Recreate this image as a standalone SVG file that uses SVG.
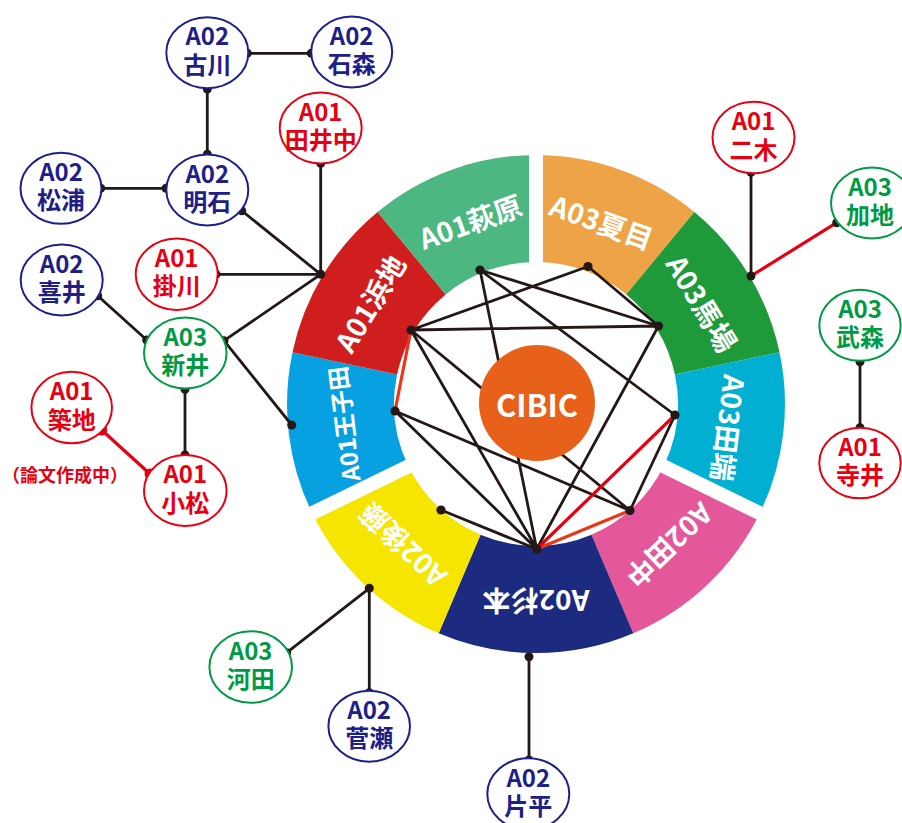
<svg xmlns="http://www.w3.org/2000/svg" width="902" height="823" viewBox="0 0 902 823">
<defs>
<style>
text{font-family:"Noto Sans CJK JP","Noto Sans",sans-serif;font-weight:700;text-anchor:middle}
.n ellipse{fill:#fff;stroke-width:2}
.n text{font-size:24px}
.a01 ellipse{stroke:#e60012}.a01 text{fill:#e60012}
.a02 ellipse{stroke:#1d2088}.a02 text{fill:#1d2088}
.a03 ellipse{stroke:#009a44}.a03 text{fill:#009a44}
.seg text{fill:#fff;font-size:28px;dominant-baseline:central}
.ln{stroke:#231815;stroke-width:2.8;fill:none}
.rd{stroke:#e60012;stroke-width:3.2;fill:none}
.or{stroke:#e8381a;stroke-width:3.2;fill:none}
.dot{fill:#231815}
.gap{fill:#fff}
</style>
</defs>
<rect width="902" height="823" fill="#fff"/>

<g id="ring">
<g id="seg-natsume" class="seg"><path fill="#eea446" d="M536,155 A249,249 0 0 1 694.4,211.9 L626.3,294.4 A142,142 0 0 0 536,262 Z"/><text transform="translate(602,221) rotate(19.75)">A03夏目</text></g>
<g id="seg-baba" class="seg"><path fill="#1f9a3b" d="M694.4,211.9 A249,249 0 0 1 779.5,352.2 L674.9,374.5 A142,142 0 0 0 626.3,294.4 Z"/><text transform="translate(702.7,303) rotate(58.75)">A03馬場</text></g>
<g id="seg-tabata" class="seg"><path fill="#00afd1" d="M779.5,352.2 A249,249 0 0 1 759.8,513.2 L663.6,466.3 A142,142 0 0 0 674.9,374.5 Z"/><text transform="translate(729.5,428) rotate(97)">A03田端</text></g>
<g id="seg-tanaka" class="seg"><path fill="#e4579b" d="M759.8,513.2 A249,249 0 0 1 633.3,633.2 L591.5,534.7 A142,142 0 0 0 663.6,466.3 Z"/><text transform="translate(670,546) rotate(136.5)">A02田中</text></g>
<g id="seg-sugimoto" class="seg"><path fill="#1c2a80" d="M633.3,633.2 A249,249 0 0 1 438.7,633.2 L480.5,534.7 A142,142 0 0 0 591.5,534.7 Z"/><text transform="translate(536,602) rotate(180)">A02杉本</text></g>
<g id="seg-goto" class="seg"><path fill="#f5e500" d="M438.7,633.2 A249,249 0 0 1 312.2,513.2 L408.4,466.3 A142,142 0 0 0 480.5,534.7 Z"/><text transform="translate(402,546) rotate(223.5)">A02後藤</text></g>
<g id="seg-oujita" class="seg"><path fill="#07a0e0" d="M312.2,513.2 A249,249 0 0 1 292.5,352.2 L397.1,374.5 A142,142 0 0 0 408.4,466.3 Z"/><text transform="translate(343,424) rotate(263)" style="font-size:24px">A01王子田</text></g>
<g id="seg-hamachi" class="seg"><path fill="#d01e1f" d="M292.5,352.2 A249,249 0 0 1 377.6,211.9 L445.7,294.4 A142,142 0 0 0 397.1,374.5 Z"/><text transform="translate(369.3,303) rotate(301.25)">A01浜地</text></g>
<g id="seg-hagiwara" class="seg"><path fill="#4db781" d="M377.6,211.9 A249,249 0 0 1 536,155 L536,262 A142,142 0 0 0 445.7,294.4 Z"/><text transform="translate(470,221) rotate(340.25)">A01萩原</text></g>
<rect class="gap" x="-7" y="-262" width="14" height="140" transform="translate(536,404) rotate(0)"/>
<rect class="gap" x="-7" y="-262" width="14" height="140" transform="translate(536,404) rotate(116)"/>
<rect class="gap" x="-7" y="-262" width="14" height="140" transform="translate(536,404) rotate(244)"/>
</g>

<g id="connectors">
<path class="ln" d="M411,330 L588,266.5 M411,330 L658.5,326 M411,330 L630,510.5 M411,330 L536.7,549 M480,270 L658.5,326 M480,270 L675,415 M480,270 L536.7,549 M588,266.5 L658.5,326 M658.5,326 L536.7,549 M675,415 L630,510.5 M395,411 L630,510.5 M395,411 L536.7,549 M441,510 L536.7,549"/>
<path class="or" d="M411,330 L395,411 M536.7,549 L630,510.5"/>
<path class="rd" d="M536.7,549 L675,415"/>
<path class="ln" d="M247.3,53.3 L311.3,53.3 M207.3,89 L207.3,154.3 M100.7,188.3 L166,188.3 M241.7,210.7 L320.7,274.3 M320.7,163.3 L320.7,274.3 M216,274.3 L320.7,274.3 M320.7,274.3 L224,340.7 M97.7,295.7 L146.7,340 M224,340.7 L291.7,425 M185,389.3 L185,455 M751,172.3 L751,276 M860,361.7 L860,427.7 M369.3,588.3 L286.7,652.7 M369.3,588.3 L369.3,692.7 M529,656.7 L529,760"/>
<path class="rd" d="M751,276 L836.7,222.7"/>
<path class="rd" stroke-width="4" d="M101.7,430 L150,474"/>
<g class="dot">
<circle cx="411" cy="330" r="4.6"/><circle cx="480" cy="270" r="4.6"/><circle cx="588" cy="266.5" r="4.6"/><circle cx="658.5" cy="326" r="4.6"/><circle cx="675" cy="415" r="4.6"/><circle cx="630" cy="510.5" r="4.6"/><circle cx="536.7" cy="549" r="4.6"/><circle cx="441" cy="510" r="4.6"/><circle cx="395" cy="411" r="4.6"/>
<circle cx="247.3" cy="53.3" r="4.5"/><circle cx="311.3" cy="53.3" r="4.5"/><circle cx="207.3" cy="89" r="4.5"/><circle cx="207.3" cy="154.3" r="4.5"/><circle cx="100.7" cy="188.3" r="4.5"/><circle cx="166" cy="188.3" r="4.5"/><circle cx="241.7" cy="210.7" r="4.5"/><circle cx="320.7" cy="274.3" r="4.5"/><circle cx="320.7" cy="163.3" r="4.5"/><circle cx="216" cy="274.3" r="4.5"/><circle cx="224" cy="340.7" r="4.5"/><circle cx="97.7" cy="295.7" r="4.5"/><circle cx="146.7" cy="340" r="4.5"/><circle cx="291.7" cy="425" r="4.5"/><circle cx="185" cy="389.3" r="4.5"/><circle cx="185" cy="455" r="4.5"/><circle cx="751" cy="172.3" r="4.5"/><circle cx="751" cy="276" r="4.5"/><circle cx="836.7" cy="222.7" r="4.5"/><circle cx="860" cy="361.7" r="4.5"/><circle cx="860" cy="427.7" r="4.5"/><circle cx="369.3" cy="588.3" r="4.5"/><circle cx="286.7" cy="652.7" r="4.5"/><circle cx="369.3" cy="692.7" r="4.5"/><circle cx="529" cy="656.7" r="4.5"/><circle cx="529" cy="760" r="4.5"/>
</g>
<circle cx="101.7" cy="430" r="5.5" fill="#e60012"/><circle cx="150" cy="474" r="5.5" fill="#e60012"/>
</g>

<g id="cibic"><circle cx="537" cy="403" r="58" fill="#e8611b"/><text x="537" y="416.5" font-size="31" fill="#fff">CIBIC</text></g>

<g id="n-furukawa" class="n a02"><ellipse cx="207.3" cy="52.7" rx="41" ry="35.5"/><text x="207.3" y="45.2">A02<tspan x="207.3" dy="28.5">古川</tspan></text></g>
<g id="n-ishimori" class="n a02"><ellipse cx="351.7" cy="52" rx="40.5" ry="35.5"/><text x="351.7" y="44.5">A02<tspan x="351.7" dy="28.5">石森</tspan></text></g>
<g id="n-tainaka" class="n a01"><ellipse cx="320.7" cy="128" rx="41" ry="35.5"/><text x="320.7" y="120.5">A01<tspan x="320.7" dy="28.5">田井中</tspan></text></g>
<g id="n-akashi" class="n a02"><ellipse cx="207.3" cy="190" rx="41" ry="35.5"/><text x="207.3" y="182.5">A02<tspan x="207.3" dy="28.5">明石</tspan></text></g>
<g id="n-matsuura" class="n a02"><ellipse cx="61" cy="188.3" rx="40.5" ry="35.5"/><text x="61" y="180.8">A02<tspan x="61" dy="28.5">松浦</tspan></text></g>
<g id="n-kakegawa" class="n a01"><ellipse cx="176.7" cy="274.2" rx="41" ry="35.8"/><text x="176.7" y="266.7">A01<tspan x="176.7" dy="28.5">掛川</tspan></text></g>
<g id="n-yoshii" class="n a02"><ellipse cx="61.7" cy="280" rx="41" ry="35.5"/><text x="61.7" y="272.5">A02<tspan x="61.7" dy="28.5">喜井</tspan></text></g>
<g id="n-arai" class="n a03"><ellipse cx="185.3" cy="353" rx="41.3" ry="35.5"/><text x="185.3" y="345.5">A03<tspan x="185.3" dy="28.5">新井</tspan></text></g>
<g id="n-tsukiji" class="n a01"><ellipse cx="71.7" cy="407.5" rx="40.3" ry="35.8"/><text x="71.7" y="400">A01<tspan x="71.7" dy="28.5">築地</tspan></text></g>
<g id="n-komatsu" class="n a01"><ellipse cx="185.3" cy="490.5" rx="41.3" ry="35.5"/><text x="185.3" y="483">A01<tspan x="185.3" dy="28.5">小松</tspan></text></g>
<text id="note-tsukiji" x="65" y="481.5" font-size="18" fill="#e60012">（論文作成中）</text>
<g id="n-futaki" class="n a01"><ellipse cx="753.5" cy="137.5" rx="41" ry="35.8"/><text x="753.5" y="130">A01<tspan x="753.5" dy="28.5">二木</tspan></text></g>
<g id="n-kachi" class="n a03"><ellipse cx="872" cy="203" rx="41" ry="35.5"/><text x="870" y="195.5">A03<tspan x="870" dy="28.5">加地</tspan></text></g>
<g id="n-takemori" class="n a03"><ellipse cx="860" cy="325.3" rx="40.7" ry="35.5"/><text x="860" y="317.8">A03<tspan x="860" dy="28.5">武森</tspan></text></g>
<g id="n-terai" class="n a01"><ellipse cx="860" cy="463" rx="40.7" ry="35.3"/><text x="860" y="455.5">A01<tspan x="860" dy="28.5">寺井</tspan></text></g>
<g id="n-kawata" class="n a03"><ellipse cx="250.7" cy="667" rx="41.3" ry="35.8"/><text x="250.7" y="659.5">A03<tspan x="250.7" dy="28.5">河田</tspan></text></g>
<g id="n-sugase" class="n a02"><ellipse cx="369.2" cy="726.2" rx="40.8" ry="35.5"/><text x="369.2" y="718.7">A02<tspan x="369.2" dy="28.5">菅瀬</tspan></text></g>
<g id="n-katahira" class="n a02"><ellipse cx="528.3" cy="794" rx="41" ry="35.7"/><text x="528.3" y="786.5">A02<tspan x="528.3" dy="28.5">片平</tspan></text></g>
</svg>
